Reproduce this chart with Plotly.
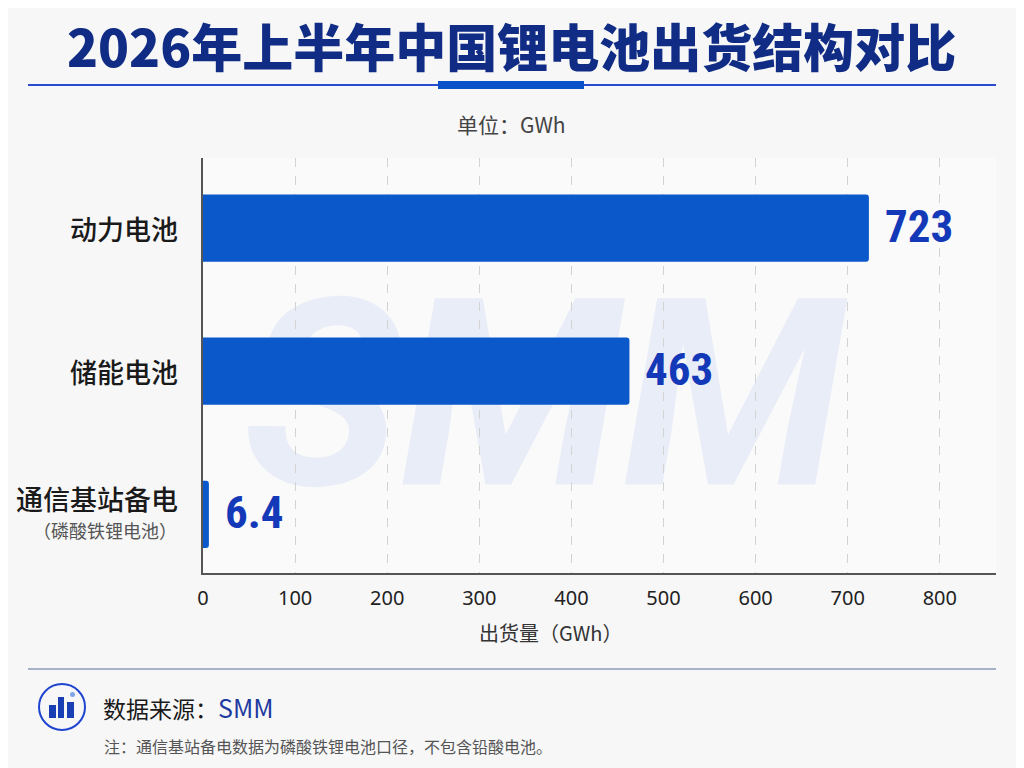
import plotly.graph_objects as go

# data
categories = ["动力电池", "储能电池", "通信基站备电"]
cat_labels = ["动力电池", "储能电池", "通信基站备电"]
cat_notes = ["", "", "（磷酸铁锂电池）"]
shipments = [723, 463, 6.4]
value_labels = ["723", "463", "6.4"]
x_ticks = [0, 100, 200, 300, 400, 500, 600, 700, 800]

# page has an 8px body margin, so the figure is laid out in window pixels minus OFF
OFF = 8
W, H = 1024 - OFF, 768 - OFF
L, R, T, B = 203, 996, 158, 573   # plot area in window pixels

CJK = "Noto Sans CJK SC"
NUM = "Liberation Sans Narrow, Roboto Condensed, Roboto"
BAR_BLUE = "#0A58CA"
LABEL_BLUE = "#1439B8"


def px_x(p):
    return (p - L) / (R - L)


def px_y(p):
    return (B - p) / (B - T)


fig = go.Figure()
fig.add_trace(go.Bar(
    x=shipments,
    y=categories,
    orientation="h",
    width=0.47,
    marker=dict(color=BAR_BLUE, line=dict(width=0)),
    hoverinfo="skip",
))

# value labels next to bars
for cat, val, lab in zip(categories, shipments, value_labels):
    fig.add_annotation(
        x=val, y=cat, xref="x", yref="y", text=lab, showarrow=False,
        xanchor="left", yanchor="middle", xshift=14, yshift=2,
        font=dict(family=NUM, size=45, color=LABEL_BLUE, weight="bold"),
    )

# category labels on the left
for cat, lab, note in zip(categories, cat_labels, cat_notes):
    shift = 16 if note else 0
    fig.add_annotation(
        x=px_x(180), y=cat, xref="paper", yref="y", text=lab, showarrow=False,
        xanchor="right", yanchor="middle", yshift=shift,
        font=dict(family=CJK, size=27, color="#1a1a1a", weight=500),
    )
    if note:
        fig.add_annotation(
            x=px_x(105), y=cat, xref="paper", yref="y", text=note, showarrow=False,
            xanchor="center", yanchor="middle", yshift=-16,
            font=dict(family=CJK, size=18, color="#555555"),
        )

shapes = []
# watermark behind everything
shapes.append(dict(
    type="rect", xref="paper", yref="paper",
    x0=px_x(236), x1=px_x(852), y0=px_y(482), y1=px_y(270),
    line=dict(width=0), fillcolor="rgba(0,0,0,0)", layer="below",
    label=dict(text="<b><i>SMM</i></b>", textposition="middle center",
               font=dict(family="Roboto, Liberation Sans", size=262, color="#E9EDF8",
                         weight="bold", style="italic")),
))
# title rule
shapes.append(dict(type="line", xref="paper", yref="paper",
                   x0=px_x(28), x1=px_x(996), y0=px_y(85), y1=px_y(85),
                   line=dict(color="#2A4BD0", width=2)))
shapes.append(dict(type="rect", xref="paper", yref="paper",
                   x0=px_x(438), x1=px_x(584), y0=px_y(89), y1=px_y(81),
                   line=dict(width=0), fillcolor="#0A50C8"))
# footer rule
shapes.append(dict(type="line", xref="paper", yref="paper",
                   x0=px_x(28), x1=px_x(996), y0=px_y(669), y1=px_y(669),
                   line=dict(color="#8C9DBA", width=1.5)))
# source icon
shapes.append(dict(type="circle", xref="paper", yref="paper",
                   x0=px_x(39), x1=px_x(85), y0=px_y(730), y1=px_y(684),
                   line=dict(color="#1F45D0", width=2), fillcolor="rgba(0,0,0,0)"))
for x0, x1, top in [(49, 56, 705), (58, 64, 697), (67, 74, 702)]:
    shapes.append(dict(type="rect", xref="paper", yref="paper",
                       x0=px_x(x0), x1=px_x(x1), y0=px_y(718), y1=px_y(top),
                       line=dict(width=0), fillcolor="#1A3FB5"))
shapes.append(dict(type="circle", xref="paper", yref="paper",
                   x0=px_x(70), x1=px_x(75), y0=px_y(697), y1=px_y(692),
                   line=dict(width=0), fillcolor="#7FA6E8"))

annotations = [
    dict(text="2026年上半年中国锂电池出货结构对比", x=px_x(511), y=px_y(45),
         font=dict(family=CJK, size=51, color="#102C85", weight=900)),
    dict(text="单位：GWh", x=px_x(511), y=px_y(124),
         font=dict(family=CJK, size=21, color="#444444")),
    dict(text="出货量（GWh）", x=px_x(550), y=px_y(632),
         font=dict(family=CJK, size=20, color="#333333")),
    dict(text="数据来源：<span style='color:#1E3AA0;font-size:25px'>SMM</span>", x=px_x(101), y=px_y(707),
         xanchor="left", font=dict(family=CJK, size=23, color="#1a1a1a")),
    dict(text="注：通信基站备电数据为磷酸铁锂电池口径，不包含铅酸电池。", x=px_x(102), y=px_y(746),
         xanchor="left", font=dict(family=CJK, size=16, color="#555555")),
]
for a in annotations:
    a.setdefault("xanchor", "center")
    a.update(xref="paper", yref="paper", yanchor="middle", showarrow=False)
    fig.add_annotation(**a)

fig.update_layout(
    width=W, height=H,
    margin=dict(l=L - OFF, r=W - (R - OFF), t=T - OFF, b=H - (B - OFF), pad=0),
    paper_bgcolor="#F7F7F8",
    plot_bgcolor="#FAFAFA",
    barcornerradius=3,
    showlegend=False,
    hovermode=False,
    shapes=shapes,
    font=dict(family=CJK, color="#222222"),
)

fig.update_xaxes(
    range=[0, 861], tickvals=x_ticks, ticktext=[str(v) for v in x_ticks],
    showgrid=True, gridcolor="#D3D3D3", griddash="dash", gridwidth=1,
    zeroline=False, showline=True, linecolor="#555555", linewidth=2,
    ticks="", ticklabelstandoff=6,
    tickfont=dict(family="Noto Sans, " + CJK, size=20, color="#222222"),
)
fig.update_yaxes(
    type="category", categoryorder="array", categoryarray=categories,
    range=[2.41, -0.49], showticklabels=False,
    showgrid=False, zeroline=False, showline=True, linecolor="#555555", linewidth=2,
    ticks="",
)

fig.write_html("out.html")
